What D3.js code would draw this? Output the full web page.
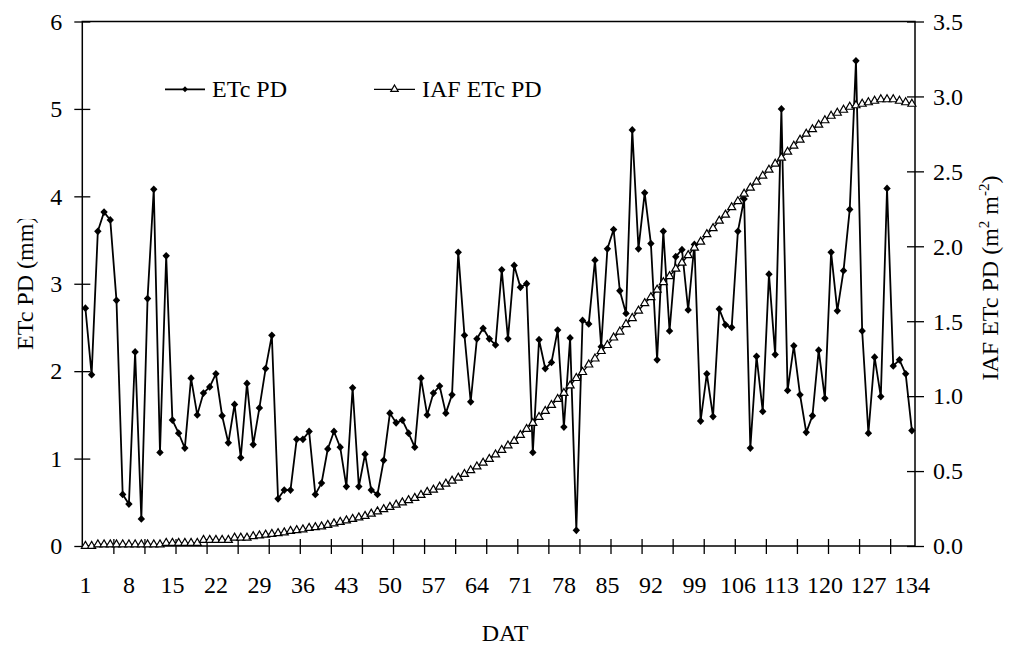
<!DOCTYPE html>
<html>
<head>
<meta charset="utf-8">
<script src="https://cdn.jsdelivr.net/npm/d3@7"></script>
<style>
  body { margin: 0; background: #fff; }
  text { font-family: "Liberation Serif", "Times New Roman", serif; fill: #000; }
</style>
</head>
<body>
<svg id="chart" width="1009" height="646"></svg>
<script>
// Days after transplanting (categories)
const days = d3.range(1, 135);

// Crop evapotranspiration, ETc PD (mm), one value per day
const etc = [
  2.72, 1.96, 3.60, 3.82, 3.73, 2.81, 0.59, 0.48, 2.22, 0.31,
  2.83, 4.08, 1.07, 3.32, 1.44, 1.29, 1.12, 1.92, 1.50, 1.75,
  1.82, 1.97, 1.49, 1.18, 1.62, 1.01, 1.86, 1.16, 1.58, 2.03,
  2.41, 0.54, 0.64, 0.64, 1.22, 1.22, 1.31, 0.59, 0.72, 1.11,
  1.31, 1.13, 0.68, 1.81, 0.68, 1.05, 0.64, 0.59, 0.98, 1.52,
  1.41, 1.44, 1.29, 1.13, 1.92, 1.50, 1.75, 1.83, 1.52, 1.73,
  3.36, 2.41, 1.65, 2.37, 2.49, 2.37, 2.30, 3.16, 2.37, 3.21,
  2.96, 3.00, 1.07, 2.36, 2.03, 2.10, 2.47, 1.36, 2.38, 0.18,
  2.58, 2.54, 3.27, 2.28, 3.40, 3.62, 2.92, 2.66, 4.76, 3.40,
  4.04, 3.46, 2.13, 3.60, 2.46, 3.31, 3.39, 2.70, 3.45, 1.43,
  1.97, 1.48, 2.71, 2.53, 2.50, 3.60, 3.97, 1.12, 2.17, 1.54,
  3.11, 2.19, 5.00, 1.78, 2.29, 1.73, 1.30, 1.49, 2.24, 1.69,
  3.36, 2.69, 3.15, 3.85, 5.55, 2.46, 1.29, 2.16, 1.71, 4.09,
  2.06, 2.13, 1.97, 1.32
];

// Leaf area index, IAF ETc PD (m2 m-2), one value per day
const iaf = [
  0.00, 0.00, 0.01, 0.01, 0.01, 0.01, 0.01, 0.01, 0.01, 0.01,
  0.01, 0.01, 0.01, 0.02, 0.02, 0.02, 0.02, 0.02, 0.02, 0.04,
  0.04, 0.04, 0.04, 0.04, 0.055, 0.055, 0.055, 0.065, 0.07, 0.075,
  0.08, 0.085, 0.09, 0.10, 0.105, 0.11, 0.12, 0.125, 0.13, 0.14,
  0.15, 0.16, 0.17, 0.18, 0.19, 0.20, 0.215, 0.23, 0.245, 0.26,
  0.275, 0.29, 0.305, 0.32, 0.34, 0.36, 0.375, 0.395, 0.415, 0.435,
  0.455, 0.48, 0.505, 0.53, 0.555, 0.58, 0.61, 0.64, 0.67, 0.70,
  0.74, 0.78, 0.82, 0.86, 0.90, 0.94, 0.98, 1.02, 1.07, 1.12,
  1.16, 1.21, 1.25, 1.30, 1.34, 1.39, 1.43, 1.48, 1.52, 1.57,
  1.62, 1.66, 1.71, 1.76, 1.80, 1.85, 1.89, 1.94, 1.99, 2.03,
  2.08, 2.12, 2.17, 2.21, 2.26, 2.30, 2.35, 2.39, 2.43, 2.47,
  2.51, 2.55, 2.59, 2.63, 2.67, 2.71, 2.75, 2.78, 2.81, 2.84,
  2.87, 2.89, 2.91, 2.93, 2.94, 2.95, 2.96, 2.97, 2.98, 2.98,
  2.98, 2.97, 2.96, 2.95
];

// Axis ticks and labels
const xLabelDays = [1, 8, 15, 22, 29, 36, 43, 50, 57, 64, 71, 78, 85, 92, 99, 106, 113, 120, 127, 134];
const xTickBounds = [5, 10, 15, 20, 25, 30, 35, 40, 45, 50, 55, 60, 65, 70, 75, 80, 85, 90, 95, 100, 105, 110, 115, 120, 125, 130];
const yLeftTicks = [0, 1, 2, 3, 4, 5, 6];
const yRightTicks = [0, 0.5, 1.0, 1.5, 2.0, 2.5, 3.0, 3.5];

const seriesNames = ["ETc PD", "IAF ETc PD"];

const svg = d3.select("#chart");
const L = 82.3, R = 915, T = 21.5, B = 546;
const FS = 24;

const x = d3.scaleBand().domain(days).range([L, R]).padding(0);
const xc = d => x(d) + x.bandwidth() / 2;
const xb = d3.scaleLinear().domain([0, days.length]).range([L, R]);
const yL = d3.scaleLinear().domain([0, 6]).range([B, T]);
const yR = d3.scaleLinear().domain([0, 3.5]).range([B, T]);

// Diamond marker
const diamond = r => ({
  draw(ctx) {
    ctx.moveTo(0, -r * 1.05);
    ctx.lineTo(r, 0);
    ctx.lineTo(0, r * 1.05);
    ctx.lineTo(-r, 0);
    ctx.closePath();
  }
});

// Plot frame
svg.append("rect")
  .attr("x", L).attr("y", T)
  .attr("width", R - L).attr("height", B - T)
  .attr("fill", "none").attr("stroke", "#000").attr("stroke-width", 1.5);

// Left axis
const gL = svg.append("g").attr("transform", `translate(${L},0)`)
  .call(d3.axisLeft(yL).tickValues(yLeftTicks).tickSize(8).tickFormat(d3.format("d")));
gL.select(".domain").remove();
gL.selectAll(".tick line").attr("x1", -8).attr("x2", 8).attr("stroke-width", 1.3);
gL.selectAll(".tick text").attr("x", -20).attr("dy", null).attr("y", 7.8)
  .style("font-size", FS + "px").style("font-family", "Liberation Serif");

// Right axis
const gR = svg.append("g").attr("transform", `translate(${R},0)`)
  .call(d3.axisRight(yR).tickValues(yRightTicks).tickSize(8).tickFormat(d3.format(".1f")));
gR.select(".domain").remove();
gR.selectAll(".tick line").attr("x1", -8).attr("x2", 9).attr("stroke-width", 1.3);
gR.selectAll(".tick text").attr("x", 18).attr("dy", null).attr("y", 7.8)
  .style("font-size", FS + "px").style("font-family", "Liberation Serif");

// Bottom axis: tick marks on category boundaries
const gBt = svg.append("g").attr("transform", `translate(0,${B})`)
  .call(d3.axisBottom(xb).tickValues(xTickBounds).tickSize(7).tickFormat(""));
gBt.select(".domain").remove();
gBt.selectAll(".tick line").attr("y1", -7).attr("y2", 8).attr("stroke-width", 1.3);

// Bottom axis: labels centred on categories
const gBl = svg.append("g").attr("transform", `translate(0,${B})`)
  .call(d3.axisBottom(x).tickValues(xLabelDays).tickSize(0));
gBl.select(".domain").remove();
gBl.selectAll(".tick text").attr("dy", null).attr("y", 47)
  .style("font-size", FS + "px").style("font-family", "Liberation Serif");

// Axis titles
svg.append("text")
  .attr("x", 505).attr("y", 641)
  .attr("text-anchor", "middle")
  .style("font-size", FS + "px")
  .text("DAT");

// Left title; the closing bracket is cut short as in the printed figure
svg.append("clipPath").attr("id", "ltitle-clip")
  .append("rect").attr("x", 0).attr("y", 219).attr("width", 60).attr("height", 200);
svg.append("g")
  .attr("clip-path", "url(#ltitle-clip)")
  .append("text")
  .attr("transform", "translate(32.5,350) rotate(-90)")
  .attr("text-anchor", "start")
  .style("font-size", FS + "px")
  .text("ETc PD (mm)");

const rt = svg.append("text")
  .attr("transform", "translate(998,278) rotate(-90)")
  .attr("text-anchor", "middle")
  .style("font-size", FS + "px");
rt.append("tspan").text("IAF ETc PD (m");
rt.append("tspan").attr("dy", -9).style("font-size", "15px").text("2");
rt.append("tspan").attr("dy", 9).text(" m");
rt.append("tspan").attr("dy", -9).style("font-size", "15px").text("-2");
rt.append("tspan").attr("dy", 9).text(")");

// ETc series
const etcData = days.map((d, i) => ({ d, v: etc[i] }));
svg.append("path")
  .datum(etcData)
  .attr("fill", "none").attr("stroke", "#000").attr("stroke-width", 1.8)
  .attr("stroke-linejoin", "round")
  .attr("d", d3.line().x(p => xc(p.d)).y(p => yL(p.v)));
svg.append("g").selectAll("path")
  .data(etcData).join("path")
  .attr("transform", p => `translate(${xc(p.d)},${yL(p.v)})`)
  .attr("d", d3.symbol(diamond(3.7))())
  .attr("fill", "#000");

// IAF series (secondary axis)
const iafData = days.map((d, i) => ({ d, v: iaf[i] }));
svg.append("path")
  .datum(iafData)
  .attr("fill", "none").attr("stroke", "#000").attr("stroke-width", 1.3)
  .attr("d", d3.line().x(p => xc(p.d)).y(p => yR(p.v)));
svg.append("g").selectAll("path")
  .data(iafData).join("path")
  .attr("transform", p => `translate(${xc(p.d)},${yR(p.v)})`)
  .attr("d", d3.symbol(d3.symbolTriangle, 28)())
  .attr("fill", "#fff").attr("stroke", "#000").attr("stroke-width", 1.2);

// Legend
const leg = svg.append("g");
leg.append("line").attr("x1", 165).attr("x2", 205).attr("y1", 89.3).attr("y2", 89.3)
  .attr("stroke", "#000").attr("stroke-width", 1.8);
leg.append("path").attr("transform", "translate(185,89.3)")
  .attr("d", d3.symbol(diamond(2.9))()).attr("fill", "#000");
leg.append("text").attr("x", 212).attr("y", 96.5).style("font-size", FS + "px").text(seriesNames[0]);

leg.append("line").attr("x1", 374).attr("x2", 415).attr("y1", 89.3).attr("y2", 89.3)
  .attr("stroke", "#000").attr("stroke-width", 1.3);
leg.append("path").attr("transform", "translate(394.5,89.3)")
  .attr("d", d3.symbol(d3.symbolTriangle, 24)())
  .attr("fill", "#fff").attr("stroke", "#000").attr("stroke-width", 1.2);
leg.append("text").attr("x", 422).attr("y", 96.5).style("font-size", FS + "px").text(seriesNames[1]);
</script>
</body>
</html>
